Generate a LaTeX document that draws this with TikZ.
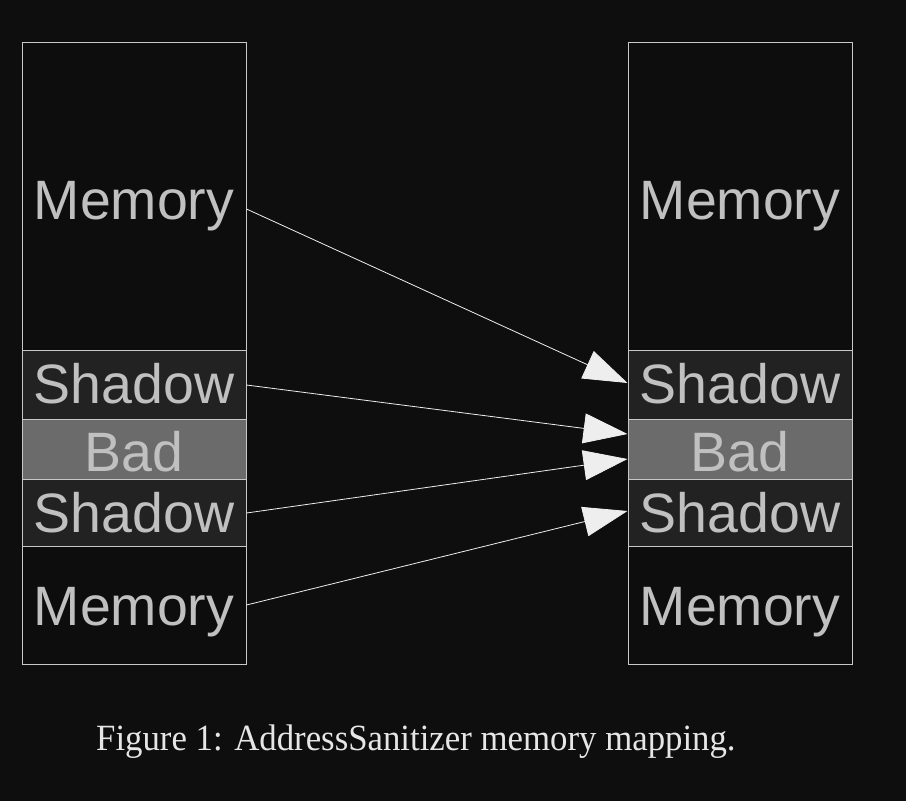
\documentclass[tikz,border=0pt]{standalone}
\usepackage{fontspec}
\setmainfont{Liberation Serif}
\newfontfamily\arialfont{Liberation Sans}
\usetikzlibrary{arrows.meta}
\definecolor{bgc}{HTML}{0E0E0E}
\definecolor{memc}{HTML}{0D0D0D}
\definecolor{shadc}{HTML}{222222}
\definecolor{badc}{HTML}{6B6B6B}
\definecolor{edgec}{HTML}{C8C8C8}
\definecolor{txtc}{HTML}{C0C0C0}
\definecolor{arrc}{HTML}{EEEEEE}
\definecolor{capc}{HTML}{E6E6E6}
\tikzset{
  region/.style={draw=edgec, line width=0.9pt},
  memregion/.style={region, fill=memc},
  shadregion/.style={region, fill=shadc},
  badregion/.style={region, fill=badc},
  lbl/.style={text=txtc, font=\arialfont\fontsize{55.5}{60}\selectfont, anchor=base, inner sep=0pt},
  maparrow/.style={draw=arrc, line width=0.8pt, -{Triangle[length=44pt, width=30pt, fill=arrc]}},
}
\begin{document}
\begin{tikzpicture}[x=1pt, y=-1pt]
\fill[bgc] (0,0) rectangle (906,801);
\useasboundingbox (0,0) rectangle (906,801);
% left column
\draw[memregion] (22,42) rectangle (246,350);
\draw[shadregion] (22,350) rectangle (246,419);
\draw[badregion] (22,419) rectangle (246,479);
\draw[shadregion] (22,479) rectangle (246,546);
\draw[memregion] (22,546) rectangle (246,664);
% right column
\draw[memregion] (628,42) rectangle (852,350);
\draw[shadregion] (628,350) rectangle (852,419);
\draw[badregion] (628,419) rectangle (852,479);
\draw[shadregion] (628,479) rectangle (852,546);
\draw[memregion] (628,546) rectangle (852,664);
% labels
\node[lbl] (lmem1) at (134,219) {Memory};
\node[lbl] (lsh1) at (134,403) {Shadow};
\node[lbl] (lbad) at (134,471) {Bad};
\node[lbl] (lsh2) at (134,532) {Shadow};
\node[lbl] (lmem2) at (134,625) {Memory};
\node[lbl] (rmem1) at (740,219) {Memory};
\node[lbl] (rsh1) at (740,403) {Shadow};
\node[lbl] (rbad) at (740,471) {Bad};
\node[lbl] (rsh2) at (740,532) {Shadow};
\node[lbl] (rmem2) at (740,625) {Memory};
% connector endpoints
\coordinate (s1) at (246.5,209);
\coordinate (s2) at (246.5,385);
\coordinate (s3) at (246.5,513);
\coordinate (s4) at (246.5,605);
\coordinate (t1) at (627.5,383);
\coordinate (t2) at (627.5,434);
\coordinate (t3) at (627.5,459);
\coordinate (t4) at (627.5,511);
\draw[maparrow] (s1) -- (t1);
\draw[maparrow] (s2) -- (t2);
\draw[maparrow] (s3) -- (t3);
\draw[maparrow] (s4) -- (t4);
% caption
\node[text=capc, anchor=base west, inner sep=0pt, xscale=0.94, font=\fontsize{37}{44}\selectfont] (cap) at (96,750) {Figure 1: AddressSanitizer memory mapping.};
\end{tikzpicture}
\end{document}
